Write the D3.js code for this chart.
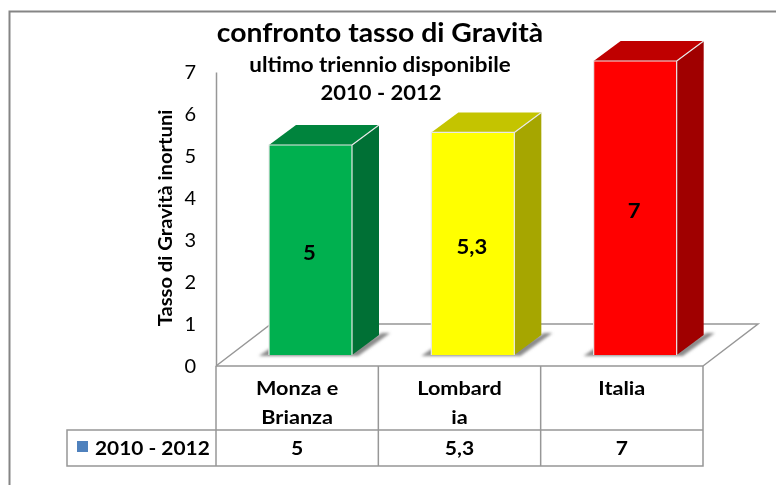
<!DOCTYPE html>
<html><head><meta charset="utf-8">
<script src="https://cdn.jsdelivr.net/npm/d3@7"></script>
<style>html,body{margin:0;padding:0;background:#fff;overflow:hidden}svg{display:block}text{font-family:Lato,"Open Sans",sans-serif;fill:#000}</style>
</head><body><div id="c"></div>
<script>
const categories = ["Monza e|Brianza", "Lombard|ia", "Italia"];
const values = [5, 5.3, 7];
const valueLabels = ["5", "5,3", "7"];
const yTicks = [0, 1, 2, 3, 4, 5, 6, 7];
const seriesName = "2010 - 2012";
const faceColors = ["#00b050", "#ffff00", "#ff0000"];
const topColors = ["#00843c", "#c4c400", "#bf0000"];
const sideColors = ["#007034", "#a6a600", "#a00000"];
const titleLines = ["confronto tasso di Gravità", "ultimo triennio disponibile", "2010 - 2012"];
const yTitle = "Tasso di Gravità inortuni";

const W = 776, H = 485;
const svg = d3.select("#c").append("svg").attr("width", W).attr("height", H);
const defs = svg.append("defs");
defs.append("filter").attr("id", "sh").attr("x", "-20%").attr("y", "-100%").attr("width", "140%").attr("height", "300%")
  .append("feGaussianBlur").attr("stdDeviation", 1.5);
defs.append("filter").attr("id", "soft").append("feGaussianBlur").attr("stdDeviation", 0.3);

// widen a text element horizontally, keeping it real text
function stretch(sel, k) {
  sel.each(function() {
    const n = d3.select(this);
    n.attr("textLength", this.getComputedTextLength() * k).attr("lengthAdjust", "spacingAndGlyphs");
  });
  return sel;
}

const root = svg.append("g").attr("filter", "url(#soft)");
const grey = "#979797";
root.append("path").attr("d", `M9.5,${H}V11.5H${W}`).attr("fill", "none").attr("stroke", "#858585").attr("stroke-width", 2);

const x0 = 216, x1 = 703, floorTop = 366, dxF = 55, dyF = 42, dx = 27, dy = 20, baseLift = 11;
const x = d3.scaleBand().domain(categories).range([x0, x1]);
const y = d3.scaleLinear().domain([0, 7]).range([floorTop, 72]);
const barW = 83, barOff = 53;

// titles
const t = root.append("g").attr("text-anchor", "middle");
stretch(t.append("text").attr("x", 380).attr("y", 42).attr("font-size", 26).attr("font-weight", 700).text(titleLines[0]), 1.09);
stretch(t.append("text").attr("x", 380).attr("y", 72).attr("font-size", 20).attr("font-weight", 700).text(titleLines[1]), 1.12);
stretch(t.append("text").attr("x", 381).attr("y", 100).attr("font-size", 20).attr("font-weight", 700).text(titleLines[2]), 1.1);

// y axis
const axis = d3.axisLeft(y).tickValues(yTicks).tickSize(0).tickPadding(20).tickFormat(d3.format("d"));
const ag = root.append("g").attr("transform", `translate(${x0},0)`).call(axis);
ag.select(".domain").attr("stroke", grey).attr("stroke-width", 1.5);
ag.selectAll("text").attr("font-size", 20).attr("font-family", "Lato").attr("fill", "#333").attr("dy", "0.32em");
stretch(root.append("text").attr("transform", "translate(172,218) rotate(-90)").attr("text-anchor", "middle")
  .attr("font-size", 19).attr("font-weight", 700).text(yTitle), 1.06);

// floor
root.append("path").attr("d", `M${x0},${floorTop}L${x0+dxF},${floorTop-dyF}H${x1+dxF}L${x1},${floorTop}`)
  .attr("fill", "none").attr("stroke", grey).attr("stroke-width", 1.5);

// bars
const bars = root.append("g").selectAll("g").data(categories).join("g");
bars.each(function(c, i) {
  const g = d3.select(this);
  const l = x(c) + barOff, r = l + barW, b = floorTop - baseLift, tp = y(values[i]) - baseLift;
  g.append("path").attr("d", `M${l-10},${b+1}L${l},${b-6}H${r}L${r+30},${b-22}L${r+38},${b-22}L${r+6},${b+1}Z`)
    .attr("fill", "#8a8a8a").attr("filter", "url(#sh)");
  g.append("path").attr("d", `M${l},${tp}L${l+dx},${tp-dy}H${r+dx}L${r},${tp}Z`).attr("fill", topColors[i]);
  g.append("path").attr("d", `M${r},${tp}L${r+dx},${tp-dy}V${b-dy}L${r},${b}Z`).attr("fill", sideColors[i]);
  g.append("rect").attr("x", l).attr("y", tp).attr("width", barW).attr("height", b - tp).attr("fill", faceColors[i]);
  g.append("path").attr("d", `M${l},${b}V${tp}H${r}V${b}M${r},${tp}L${r+dx},${tp-dy}`)
    .attr("fill", "none").attr("stroke", "#e8e8e8").attr("stroke-width", 1.2);
  stretch(g.append("text").attr("x", (l + r) / 2 - 1).attr("y", (tp + b) / 2 + 10).attr("text-anchor", "middle")
    .attr("font-size", 21).attr("font-weight", 700).text(valueLabels[i]), 1.05);
});

// data table
const rowMid = 430, tblBot = 466, legL = 67;
const tb = root.append("g").attr("fill", "none").attr("stroke", grey).attr("stroke-width", 1.5);
tb.append("path").attr("d", `M${x0},${floorTop}H${x1}V${tblBot}H${legL}V${rowMid}H${x1}`);
tb.selectAll("line").data([x0, ...categories.slice(1).map(c => x(c))]).join("line")
  .attr("x1", d => d).attr("x2", d => d).attr("y1", floorTop).attr("y2", tblBot);

const cells = root.append("g").attr("text-anchor", "middle").attr("font-weight", 700);
categories.forEach((c, i) => {
  const cx = x(c) + x.bandwidth() / 2;
  c.split("|").forEach((ln, j) => stretch(cells.append("text").attr("x", cx).attr("y", 395 + j * 29).attr("font-size", 19.5).text(ln), 1.11));
  stretch(cells.append("text").attr("x", cx).attr("y", 455).attr("font-size", 19.5).text(valueLabels[i]), 1.08);
});
root.append("rect").attr("x", 77).attr("y", 441).attr("width", 11).attr("height", 11).attr("fill", "#4f81bd");
stretch(root.append("text").attr("x", 95).attr("y", 455).attr("font-size", 19.5).attr("font-weight", 700).text(seriesName), 1.07);
</script></body></html>
